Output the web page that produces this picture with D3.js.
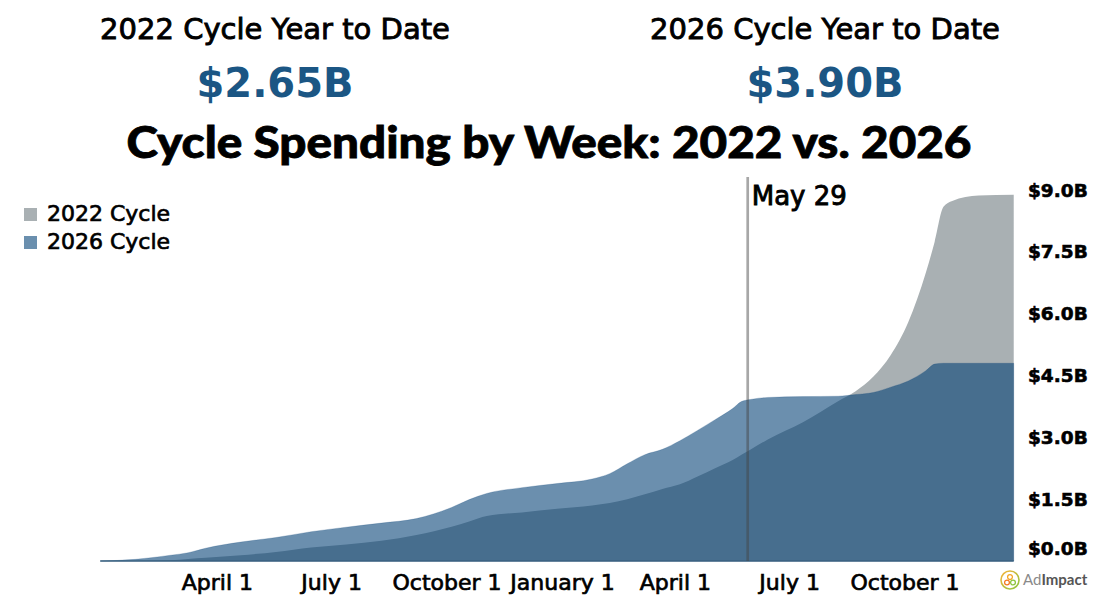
<!DOCTYPE html>
<html>
<head>
<meta charset="utf-8">
<script src="https://cdn.jsdelivr.net/npm/d3@7"></script>
<style>
  body { margin: 0; background: #fff; }
  svg { display: block; }
</style>
</head>
<body>
<svg id="chart" width="1100" height="600"></svg>
<script>
// weekly cumulative spending, $B
var weekDates = ["2024-12-29","2025-01-26","2025-02-23","2025-03-09","2025-03-23","2025-04-20","2025-05-18","2025-06-15",
  "2025-07-13","2025-08-10","2025-09-07","2025-10-05","2025-10-19","2025-11-02","2025-11-30","2025-12-28",
  "2026-01-25","2026-02-08","2026-02-22","2026-03-08","2026-03-22","2026-04-05","2026-04-19","2026-05-03",
  "2026-05-17","2026-05-24","2026-05-31","2026-06-14","2026-07-12","2026-08-09","2026-08-23","2026-09-06",
  "2026-09-20","2026-10-04","2026-10-18","2026-10-25","2026-11-01","2026-11-08","2026-11-29","2026-12-27"];
var spend2022 = [0,0,0.02,0.05,0.08,0.14,0.22,0.33,
  0.40,0.49,0.63,0.83,0.96,1.09,1.18,1.27,
  1.35,1.41,1.50,1.62,1.75,1.86,2.05,2.25,
  2.45,2.58,2.70,2.95,3.37,3.88,4.12,4.47,
  5.00,5.80,7.00,7.75,8.60,8.74,8.87,8.89];
var spend2026 = [0,0.04,0.14,0.20,0.31,0.46,0.57,0.71,
  0.82,0.92,1.03,1.30,1.49,1.64,1.78,1.88,
  1.99,2.12,2.36,2.58,2.71,2.92,3.17,3.43,
  3.70,3.87,3.92,3.97,3.99,4.00,4.04,4.09,
  4.22,4.37,4.62,4.78,4.80,4.80,4.80,4.80];

var seriesNames = ["2022 Cycle","2026 Cycle"];
var ytdLabels = ["2022 Cycle Year to Date","2026 Cycle Year to Date"];
var ytdValues = ["$2.65B","$3.90B"];
var tickDates = ["2025-04-01","2025-07-01","2025-10-01","2026-01-01","2026-04-01","2026-07-01","2026-10-01"];
var tickNames = ["April 1","July 1","October 1","January 1","April 1","July 1","October 1"];
var yTicks = [0,1.5,3,4.5,6,7.5,9];
var markerDate = "2026-05-29";
var markerLabel = "May 29";

var parse = d3.timeParse("%Y-%m-%d");
var data = weekDates.map(function(d,i){
    return {date: parse(d), v22: spend2022[i], v26: spend2026[i]};
});

var svg = d3.select("#chart");
var bodyFont = "'DejaVu Sans', Verdana, sans-serif";

var x = d3.scaleTime().domain([parse("2025-01-01"), parse("2027-01-01")]).range([104, 1020]);
var y = d3.scaleLinear().domain([0, 9]).range([561, 190.2]);

// a bit of stroke to get the medium weight of the original font
function medium(sel, c, w){
    return sel.attr("stroke", c || "#000").attr("stroke-width", w || 0.7).attr("paint-order","stroke");
}

// headline numbers
var headX = [275, 825];
for (var i=0;i<2;i++){
    medium(svg.append("text").text(ytdLabels[i]).attr("x",headX[i]).attr("y",39)
       .attr("text-anchor","middle").attr("font-family",bodyFont).attr("font-size","29px").attr("fill","#000"), "#000", 0.9);
    svg.append("text").text(ytdValues[i]).attr("x",headX[i]).attr("y",97)
       .attr("text-anchor","middle").attr("font-family",bodyFont).attr("font-weight","bold")
       .attr("font-size","40px").attr("fill","#1b5684");
}

medium(svg.append("text").text("Cycle Spending by Week: 2022 vs. 2026")
   .attr("x",549).attr("y",158).attr("text-anchor","middle")
   .attr("font-family","Lato, sans-serif").attr("font-weight",900).attr("font-size","43px")
   .attr("textLength",845).attr("lengthAdjust","spacingAndGlyphs").attr("fill","#000"), "#000", 0.8);

// areas
var area22 = d3.area().x(function(d){return x(d.date);}).y0(y(0)).y1(function(d){return y(d.v22);}).curve(d3.curveMonotoneX);
var area26 = d3.area().x(function(d){return x(d.date);}).y0(y(0)).y1(function(d){return y(d.v26);}).curve(d3.curveMonotoneX);

svg.append("path").datum(data).attr("d",area22).attr("fill","#a9b0b3");
svg.append("path").datum(data).attr("d",area26).attr("fill","rgb(0,62,116)").attr("fill-opacity",0.58)
   .attr("stroke","rgb(0,62,116)").attr("stroke-opacity",0.25).attr("stroke-width",0.8);
svg.append("line").attr("x1",x(data[0].date)).attr("x2",x(data[data.length-1].date))
   .attr("y1",y(0)).attr("y2",y(0)).attr("stroke","#3b6281").attr("stroke-width",1.5);

// marker for today
var mx = x(parse(markerDate));
svg.append("line").attr("x1",mx).attr("x2",mx).attr("y1",177).attr("y2",y(0))
   .attr("stroke","#444").attr("stroke-opacity",0.47).attr("stroke-width",2.7);
medium(svg.append("text").text(markerLabel).attr("x",mx+4).attr("y",205)
   .attr("font-family",bodyFont).attr("font-size","26px").attr("fill","#000"), "#000", 0.9);

// legend
var legendColors = ["#a9b0b3","#6a8fae"];
for (var i=0;i<seriesNames.length;i++){
    svg.append("rect").attr("x",24).attr("y",208+i*28).attr("width",13).attr("height",13).attr("fill",legendColors[i]);
    medium(svg.append("text").text(seriesNames[i]).attr("x",47).attr("y",221+i*28)
       .attr("font-family",bodyFont).attr("font-size","22px").attr("fill","#000"));
}

// x axis
var xAxis = d3.axisBottom(x).tickValues(tickDates.map(parse)).tickSize(0).tickPadding(0)
    .tickFormat(function(d,i){ return tickNames[i]; });
var gx = svg.append("g").attr("transform","translate(0,572)").call(xAxis);
gx.select(".domain").remove();
medium(gx.selectAll("text").attr("font-family",bodyFont).attr("font-size","22px").attr("fill","#000").attr("dy","0.8em"));

// y axis on the right
var yAxis = d3.axisRight(y).tickValues(yTicks).tickSize(0).tickPadding(8)
    .tickFormat(function(d){ return "$" + d.toFixed(1) + "B"; });
var gy = svg.append("g").attr("transform","translate(1020,0)").call(yAxis);
gy.select(".domain").remove();
medium(gy.selectAll("text").attr("font-family",bodyFont).attr("font-weight","bold").attr("font-size","18.5px").attr("fill","#000"), "#000", 0.6);
gy.selectAll(".tick").filter(function(d){ return d === 0; }).select("text").attr("y",-12);

// logo
var logo = svg.append("g").attr("transform","translate(1010,580)");
var grad = svg.append("defs").append("linearGradient").attr("id","ring").attr("x1","0").attr("y1","0").attr("x2","1").attr("y2","1");
grad.append("stop").attr("offset","0").attr("stop-color","#f7b33b");
grad.append("stop").attr("offset","1").attr("stop-color","#8cc63f");
logo.append("circle").attr("r",9).attr("fill","none").attr("stroke","url(#ring)").attr("stroke-width",1.6);
logo.append("circle").attr("cx",0).attr("cy",-3).attr("r",2.4).attr("fill","none").attr("stroke","#f5a623").attr("stroke-width",1.3);
logo.append("circle").attr("cx",-3).attr("cy",2.5).attr("r",2.4).attr("fill","none").attr("stroke","#f47b20").attr("stroke-width",1.3);
logo.append("circle").attr("cx",3).attr("cy",2.5).attr("r",2.4).attr("fill","none").attr("stroke","#8cc63f").attr("stroke-width",1.3);
var lt = svg.append("text").attr("x",1023).attr("y",585).attr("font-family","Lato, sans-serif").attr("font-size","15px");
lt.append("tspan").text("Ad").attr("fill","#8a8a8a");
lt.append("tspan").text("Impact").attr("fill","#555").attr("font-weight","bold");
</script>
</body>
</html>
